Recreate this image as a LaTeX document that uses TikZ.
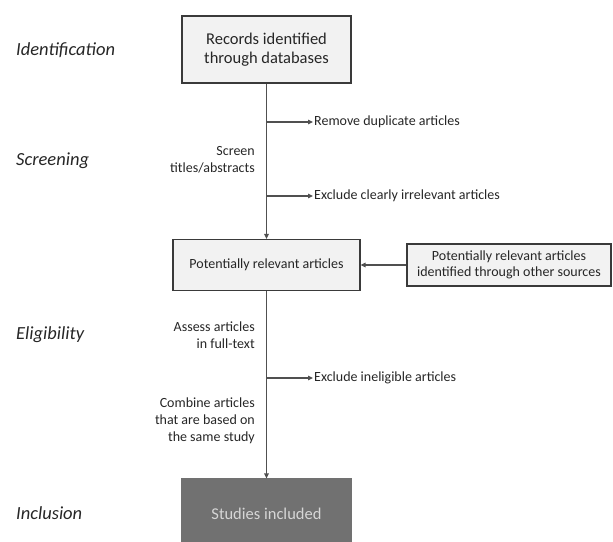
\documentclass[tikz,border=0pt]{standalone}
\usepackage{fontspec}
\setmainfont{Carlito}
\usetikzlibrary{arrows.meta}
\definecolor{boxfill}{HTML}{F2F2F2}
\definecolor{boxline}{HTML}{3A3A3A}
\definecolor{connline}{HTML}{505050}
\definecolor{darkfill}{HTML}{717171}
\definecolor{darktext}{HTML}{D6D6D6}
\definecolor{txt}{HTML}{262626}
\tikzset{
  box/.style={draw=boxline, line width=1.2pt, fill=boxfill, inner sep=0pt, align=center, text=txt},
  bigtext/.style={font=\fontsize{16.5}{19}\selectfont},
  midtext/.style={font=\fontsize{14}{15.5}\selectfont},
  sidetext/.style={font=\fontsize{14}{16.8}\selectfont, text=txt, inner sep=1pt},
  phase/.style={font=\itshape\fontsize{18.5}{22}\selectfont, text=txt, anchor=west, inner sep=0pt},
  conn/.style={draw=connline, line width=1.2pt, -{Triangle[length=5pt,width=4.5pt]}},
}
\begin{document}
\begin{tikzpicture}[x=1pt,y=-1pt]
\useasboundingbox (0,0) rectangle (613,541);
% phase labels
\node[phase] (lid) at (16,50) {Identification};
\node[phase] (lsc) at (16,161) {Screening};
\node[phase] (lel) at (16,335) {Eligibility};
\node[phase] (lin) at (16,513) {Inclusion};
% boxes
\node[box, bigtext, minimum width=169pt, minimum height=67pt] (rec) at (266.5,49.5) {Records identified\\through databases};
\node[box, midtext, minimum width=187pt, minimum height=51pt] (pot) at (266.5,265) {Potentially relevant articles};
\node[box, midtext, minimum width=204pt, minimum height=42pt] (oth) at (509,265) {Potentially relevant articles\\identified through other sources};
\node[draw=darkfill, line width=1.2pt, fill=darkfill, text=darktext, bigtext, minimum width=169pt, minimum height=69pt, inner sep=0pt] (inc) at (266.5,513.5) {Studies included};
% side texts left
\node[sidetext, anchor=east, align=right] (scr) at (256,160) {Screen\\titles/abstracts};
\node[sidetext, anchor=east, align=right] (ass) at (256,335) {Assess articles\\in full-text};
\node[sidetext, anchor=east, align=right] (com) at (256,421) {Combine articles\\that are based on\\the same study};
% side texts right
\node[sidetext, anchor=west] (dup) at (313,122) {Remove duplicate articles};
\node[sidetext, anchor=west] (irr) at (313,196) {Exclude clearly irrelevant articles};
\node[sidetext, anchor=west] (ine) at (313,378) {Exclude ineligible articles};
% connectors
\draw[conn] (rec) -- (pot);
\draw[conn] (pot) -- (inc);
\draw[conn] (oth) -- (pot);
\coordinate (b1) at (266.5,122);
\coordinate (b2) at (266.5,196);
\coordinate (b3) at (266.5,378);
\draw[conn] (b1) -- (dup);
\draw[conn] (b2) -- (irr);
\draw[conn] (b3) -- (ine);
\end{tikzpicture}
\end{document}
